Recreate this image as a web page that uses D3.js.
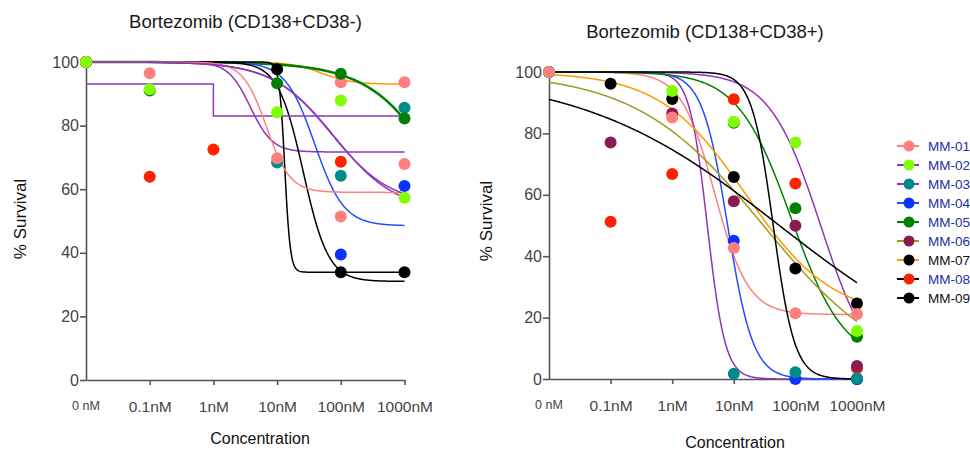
<!DOCTYPE html>
<html>
<head>
<meta charset="utf-8">
<script src="https://cdn.jsdelivr.net/npm/d3@7"></script>
<style>
  body { margin: 0; background: #fff; }
  svg { font-family: "Liberation Sans", Arial, sans-serif; }
</style>
</head>
<body>
<div id="chart"></div>
<script>
// concentrations, 0 nM is drawn one decade left of 0.1 nM
const concLabels = ["0 nM", "0.1nM", "1nM", "10nM", "100nM", "1000nM"];
const logConc = [-2, -1, 0, 1, 2, 3];
const yTicks = [0, 20, 40, 60, 80, 100];

// left panel (CD138+CD38-), listed in drawing order
const leftValues = [
  [100, null, null, 68.4, 64.2, 85.6],
  [100, null, null, null, 93.6, 93.6],
  [100, null, null, null, null, null],
  [100, 91, null, 93.3, 96.3, 82.2],
  [100, null, null, null, 39.5, 61],
  [100, null, null, null, null, null],
  [100, null, null, 97.7, 33.9, 33.9],
  [100, 63.9, 72.5, null, 68.6, null],
  [100, 96.5, null, 69.7, 51.4, 67.9],
  [100, 91.4, null, 84.2, 87.9, 57.3],
];
// fit: [top, bottom, logEC50, hill]; null = step fit below
const leftFits = [
  [100, 71.7, 0.58, 2.5],
  [100, 93, 1.7, 1.8],
  [100, 53, 1.9, 0.9],
  [100, 0, 3.91, 0.72],
  [100, 48.5, 1.59, 1.9],
  [100, 31, 1.41, 2.2],
  [100, 33.9, 1.12, 10],
  null,
  [100, 59, 0.835, 2.35],
  [100, 55, 1.85, 0.93],
];
const leftStep = [[-2, 93.1], [0, 83], [3, 83]];
const leftDotColors = ["#008b8b", "#ff7f7f", "#8b1a50", "#008000", "#0a32ff",
  "#000000", "#000000", "#ff2200", "#ff7f7f", "#80ff00"];
const leftLineColors = ["#8e35b8", "#ff9900", "#8e35b8", "#008000", "#1f4fff",
  "#000000", "#000000", "#8e35b8", "#ff8080", "#8e35b8"];
const leftLineWidths = [1.5, 1.5, 1.5, 2.5, 1.5, 1.5, 1.5, 1.5, 1.5, 1.5];

// right panel (CD138+CD38+), legend order
const rightNames = ["MM-01", "MM-02", "MM-03", "MM-04", "MM-05", "MM-06", "MM-07", "MM-08", "MM-09"];
const rightValues = [
  [100, null, 85.2, 42.7, 21.4, 21.2],
  [100, null, 93.8, 83.8, 77, 15.6],
  [100, null, null, 1.7, 2.2, 0.2],
  [100, null, null, 45, 0, 0],
  [100, null, null, 83.5, 55.6, 13.8],
  [100, 77, 86.5, 57.9, 49.9, 4.2],
  [100, 96.2, 91.2, 65.8, 36, 24.6],
  [100, 51.2, 66.8, 91.1, 63.7, 3.5],
  [100, null, null, null, null, 0],
];
const rightFits = [
  [100, 21, 0.69, 1.6],
  [100, 0, 2.41, 1.05],
  [100, 0, 0.57, 3],
  [100, 0, 0.9, 2.1],
  [100, 5, 1.93, 1],
  [100, 0, 1.48, 0.42],
  [100, 20, 1.2, 0.62],
  [100, 0, 1.74, 0.27],
  [100, 0, 1.64, 2.5],
];
const rightDotColors = ["#ff7f7f", "#80ff00", "#008b8b", "#0a32ff", "#008000",
  "#8b1a50", "#000000", "#ff2200", "#000000"];
const rightLineColors = ["#ff8080", "#8e35b8", "#8e35b8", "#1f4fff", "#008000",
  "#a09a20", "#ff9900", "#000000", "#000000"];
const legendTextColors = ["#1f2f9f", "#1f2f9f", "#1f2f9f", "#1f2f9f", "#1f2f9f",
  "#1f2f9f", "#111111", "#1f2f9f", "#111111"];

const svg = d3.select("#chart").append("svg")
  .attr("width", 970)
  .attr("height", 452);

function fourPL(fit, x) {
  const [top, bottom, c, h] = fit;
  return bottom + (top - bottom) / (1 + Math.pow(10, (x - c) * h));
}

function drawPanel(opts) {
  const x = d3.scaleLinear().domain([-2, 3]).range(opts.xRange);
  const y = d3.scaleLinear().domain([0, 100]).range(opts.yRange);
  const g = svg.append("g");

  g.append("text")
    .attr("x", opts.titleX)
    .attr("y", opts.titleY)
    .attr("text-anchor", "middle")
    .style("font-size", "18.5px")
    .attr("fill", "#1a1a1a")
    .text(opts.title);

  // axes
  const yAxis = g.append("g")
    .attr("transform", `translate(${opts.xRange[0]},0)`)
    .call(d3.axisLeft(y).tickValues(yTicks).tickSize(6).tickSizeOuter(0).tickPadding(1));
  yAxis.selectAll("text").style("font-size", "16px").attr("fill", "#444");

  const xAxis = g.append("g")
    .attr("transform", `translate(0,${opts.yRange[0]})`)
    .call(d3.axisBottom(x).tickValues(logConc.slice(1)).tickSize(5).tickSizeOuter(0)
      .tickFormat((d) => concLabels[logConc.indexOf(d)]));
  xAxis.selectAll("text")
    .attr("y", 32)
    .attr("dy", 0)
    .style("font-size", "15.5px")
    .attr("fill", "#444");

  g.selectAll(".domain, .tick line")
    .attr("stroke", "#555")
    .attr("stroke-width", 1.6);

  g.append("text")
    .attr("x", x(logConc[0]))
    .attr("y", opts.yRange[0] + 30)
    .attr("text-anchor", "middle")
    .style("font-size", "12.5px")
    .attr("fill", "#444")
    .text(concLabels[0]);

  g.append("text")
    .attr("transform", `translate(${opts.yLabelX},${opts.yLabelY}) rotate(-90)`)
    .attr("text-anchor", "middle")
    .style("font-size", "17px")
    .attr("fill", "#111")
    .text("% Survival");

  g.append("text")
    .attr("x", opts.xLabelX)
    .attr("y", opts.xLabelY)
    .attr("text-anchor", "middle")
    .style("font-size", "16px")
    .attr("fill", "#111")
    .text("Concentration");

  // fitted curves
  const xs = d3.range(-2, 3.0001, 0.01);
  const line = d3.line().x((d) => x(d[0])).y((d) => y(d[1]));
  const stepLine = d3.line().x((d) => x(d[0])).y((d) => y(d[1])).curve(d3.curveStepAfter);

  opts.fits.forEach((fit, i) => {
    const path = g.append("path")
      .attr("fill", "none")
      .attr("stroke", opts.lineColors[i])
      .attr("stroke-width", opts.lineWidths ? opts.lineWidths[i] : 1.5);
    if (fit) {
      path.attr("d", line(xs.map((v) => [v, fourPL(fit, v)])));
    } else {
      path.attr("d", stepLine(opts.step));
    }
  });

  // data points
  opts.order.forEach((i) => {
    const pts = opts.values[i]
      .map((v, j) => ({ x: logConc[j], v }))
      .filter((d) => d.v !== null);
    g.selectAll(null)
      .data(pts)
      .join("circle")
      .attr("cx", (d) => x(d.x))
      .attr("cy", (d) => y(d.v))
      .attr("r", 6)
      .attr("fill", opts.dotColors[i]);
  });
}

drawPanel({
  title: "Bortezomib (CD138+CD38-)",
  titleX: 245.5,
  titleY: 28,
  xRange: [86, 404.5],
  yRange: [380, 62],
  yLabelX: 26,
  yLabelY: 219,
  xLabelX: 260,
  xLabelY: 444,
  values: leftValues,
  fits: leftFits,
  step: leftStep,
  dotColors: leftDotColors,
  lineColors: leftLineColors,
  lineWidths: leftLineWidths,
  order: d3.range(leftValues.length),
});

drawPanel({
  title: "Bortezomib (CD138+CD38+)",
  titleX: 705,
  titleY: 38,
  xRange: [549, 857],
  yRange: [379, 72],
  yLabelX: 492,
  yLabelY: 221,
  xLabelX: 735,
  xLabelY: 448,
  values: rightValues,
  fits: rightFits,
  dotColors: rightDotColors,
  lineColors: rightLineColors,
  order: d3.range(rightValues.length).reverse(),
});

// legend
const legendY = d3.scalePoint().domain(rightNames).range([146, 298]);
const legend = svg.append("g").selectAll("g")
  .data(rightNames)
  .join("g")
  .attr("transform", (d) => `translate(909,${legendY(d)})`);

legend.append("line")
  .attr("x1", -12)
  .attr("x2", 10)
  .attr("stroke", (d, i) => rightLineColors[i])
  .attr("stroke-width", 2);

legend.append("circle")
  .attr("r", 5.5)
  .attr("fill", (d, i) => rightDotColors[i]);

legend.append("text")
  .attr("x", 19)
  .attr("dy", "0.35em")
  .style("font-size", "13.5px")
  .attr("fill", (d, i) => legendTextColors[i])
  .text((d) => d);
</script>
</body>
</html>
